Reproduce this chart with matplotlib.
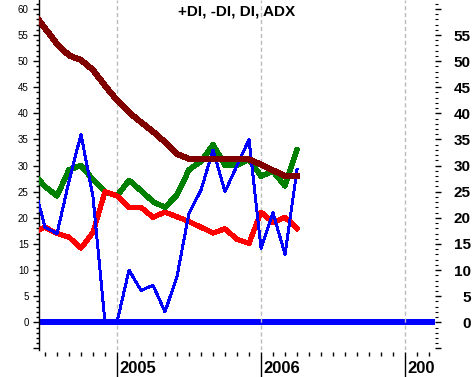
import matplotlib
matplotlib.use("Agg")
import matplotlib.pyplot as plt
from matplotlib.ticker import MultipleLocator, FixedLocator, NullFormatter
from matplotlib.transforms import Bbox, TransformedBbox, ScaledTranslation

# months counted from Jan 2005 (0 = Jan 2005, 12 = Jan 2006)
months = list(range(-7, 16))

plus_di = [28.6, 26.0, 24.2, 29.2, 30.0, 27.3, 25.0, 24.2, 27.2, 25.2, 23.1, 22.0,
           24.4, 29.2, 30.8, 34.0, 30.1, 30.1, 31.2, 28.0, 28.9, 26.1, 33.0]
minus_di = [17.2, 18.2, 17.0, 16.3, 14.2, 17.2, 25.0, 24.2, 22.0, 22.0, 20.1, 21.1,
            20.2, 19.3, 18.2, 17.1, 17.9, 15.9, 15.1, 21.1, 19.1, 20.1, 18.0]
di = [27.0, 18.2, 17.0, 27.0, 36.0, 24.0, 0.0, 0.0, 10.0, 6.1, 7.1, 2.0,
      8.8, 20.9, 25.3, 33.0, 25.0, 30.0, 35.0, 14.2, 21.0, 13.0, 29.2]
adx = [59.3, 56.3, 53.3, 51.1, 50.2, 48.3, 45.3, 42.5, 40.2, 38.3, 36.5, 34.5,
       32.2, 31.3, 31.2, 31.2, 31.2, 31.2, 31.2, 30.2, 29.1, 28.0, 28.0]

years = [2005, 2006, 2007]
year_pos = [0, 12, 24]
year_labels = [str(y) for y in years]

fig = plt.figure(figsize=(4.73, 3.77), dpi=100)
ax = fig.add_axes([39 / 473, 27 / 377, 396 / 473, 350 / 377])
ax.set_xlim(-6.5, 26.5)
ax.set_ylim(-5.3, 61.7)

ax.axhline(0, color="#0000FF", lw=3.0, zorder=1, antialiased=False)
ax.plot(months, plus_di, color="#008000", lw=3.2, zorder=3, antialiased=False)
ax.plot(months, minus_di, color="#FF0000", lw=3.0, zorder=4, antialiased=False)
ax.plot(months, di, color="#0000FF", lw=1.4, zorder=5, antialiased=False)
ax.plot(months, adx, color="#800000", lw=3.6, zorder=6, antialiased=False)

for p in year_pos:
    ax.axvline(p, color="#BBBBBB", lw=1.0, ls=(0, (3, 2)), zorder=2)

# spines
for s in ["top", "right"]:
    ax.spines[s].set_visible(False)
ax.spines["bottom"].set_color("none")
ax.spines["bottom"].set_position(("outward", 1.5))
ax.spines["left"].set_linewidth(1.0)

# x ticks: months minor, years major (long)
ax.xaxis.set_major_locator(FixedLocator(year_pos))
ax.xaxis.set_minor_locator(FixedLocator([m for m in range(-6, 27) if m % 12 != 0]))
ax.xaxis.set_major_formatter(NullFormatter())
ax.tick_params(axis="x", which="major", direction="out", length=18, width=1.0, color="black")
ax.tick_params(axis="x", which="minor", direction="out", length=3, width=1.0, color="black")

clip = TransformedBbox(Bbox([[0, -1], [1, 2]]), ax.transAxes)
offs = ScaledTranslation(2 / 72, -8 / 72, fig.dpi_scale_trans)
for p, lab in zip(year_pos, year_labels):
    t = ax.text(p, 0, lab, transform=ax.get_xaxis_transform() + offs,
                ha="left", va="top", fontsize=12, fontweight="bold",
                family="Liberation Sans")
    t.set_clip_path(None)
    t.set_clip_box(clip)
    t.set_clip_on(True)

# left y axis
ax.yaxis.set_major_locator(FixedLocator(list(range(-5, 61, 5))))
ax.yaxis.set_minor_locator(MultipleLocator(1))
ax.set_yticklabels(["" if v < 0 else str(v) for v in range(-5, 61, 5)],
                   fontsize=7, family="Liberation Sans")
ax.tick_params(axis="y", which="major", direction="out", length=4, width=1.0, pad=3.5)
ax.tick_params(axis="y", which="minor", direction="out", length=2, width=1.0)

# right y axis
ax2 = ax.twinx()
ax2.set_ylim(ax.get_ylim())
for s in ["top", "right", "left", "bottom"]:
    ax2.spines[s].set_visible(False)
ax2.yaxis.set_major_locator(FixedLocator(list(range(-5, 61, 5))))
ax2.yaxis.set_minor_locator(MultipleLocator(1))
ax2.set_yticklabels(["" if (v < 0 or v > 55) else str(v) for v in range(-5, 61, 5)],
                    fontsize=11, fontweight="bold", family="Liberation Sans")
ax2.tick_params(axis="y", which="major", direction="out", length=4.3, width=1.0, pad=21.5)
ax2.tick_params(axis="y", which="minor", direction="out", length=2, width=0.8)
for lab in ax2.get_yticklabels():
    lab.set_ha("right")

ax.set_title("+DI, -DI, DI, ADX", fontsize=11, fontweight="bold",
             family="Liberation Sans", y=0.955, pad=0, x=0.5)

fig.savefig("out.png", dpi=100)
